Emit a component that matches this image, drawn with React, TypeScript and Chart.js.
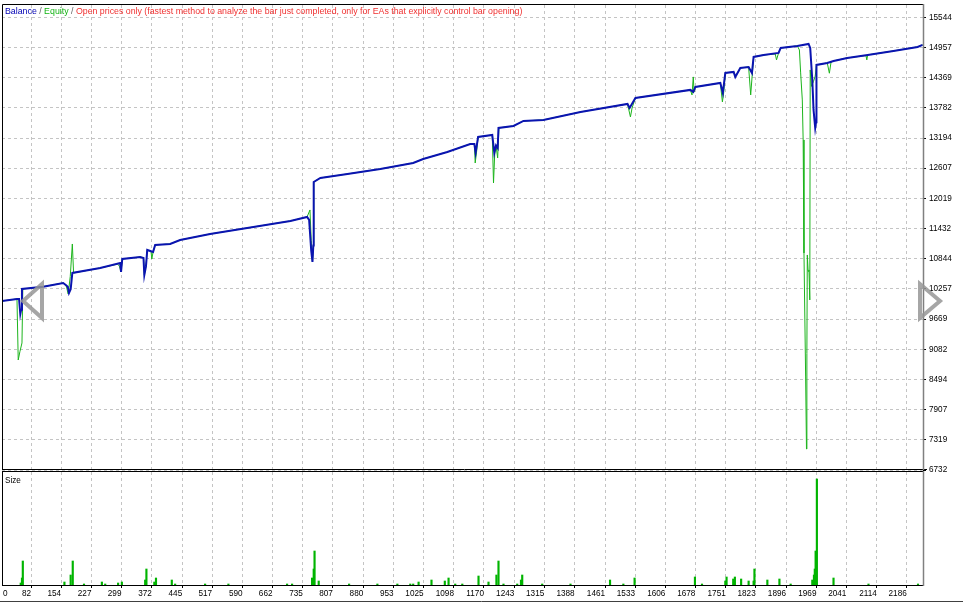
import React, { useEffect, useRef } from "react";
import { Chart, registerables } from "chart.js";

Chart.register(...registerables);

// ---------- text ----------
const titleParts: [string, string][] = [
  ["Balance", "#0000b4"],
  [" / ", "#606060"],
  ["Equity", "#14b414"],
  [" / ", "#606060"],
  ["Open prices only (fastest method to analyze the bar just completed, only for EAs that explicitly control bar opening)", "#f03030"],
];
const sizeTitle = "Size";

// ---------- tick labels ----------
const yTickLabels = ["6732", "7319", "7907", "8494", "9082", "9669", "10257", "10844", "11432", "12019", "12607", "13194", "13782", "14369", "14957", "15544"];
const xTickLabels = ["0", "82", "154", "227", "299", "372", "445", "517", "590", "662", "735", "807", "880", "953", "1025", "1098", "1170", "1243", "1315", "1388", "1461", "1533", "1606", "1678", "1751", "1823", "1896", "1969", "2041", "2114", "2186"];

// ---------- balance ----------
const balanceBars = [12, 48, 53, 56, 58, 60, 111, 159, 166, 170, 173, 177, 181, 248, 296, 298, 301, 344, 352, 354, 358, 361, 375, 380, 416, 440, 512, 616, 705, 745, 750, 755, 758, 760, 761, 777, 842, 921, 1000, 1024, 1082, 1137, 1147, 1150, 1156, 1190, 1195, 1199, 1203, 1205, 1241, 1265, 1313, 1402, 1515, 1520, 1534, 1666, 1673, 1678, 1738, 1744, 1750, 1770, 1774, 1786, 1806, 1814, 1818, 1842, 1878, 1883, 1923, 1950, 1954, 1959, 1962, 1966, 1968, 1969, 1995, 2010, 2043, 2092, 2154, 2212, 2224];
const balanceValues = [10022, 10061, 10061, 9769, 9850, 10256, 10301, 10373, 10330, 10300, 10178, 10250, 10568, 10665, 10762, 10587, 10840, 10879, 10860, 10529, 10700, 11015, 10976, 11113, 11132, 11210, 11327, 11463, 11580, 11658, 11600, 11000, 10782, 11100, 12339, 12417, 12495, 12592, 12709, 12787, 12923, 13079, 13079, 12904, 13216, 13254, 12904, 13050, 13000, 13391, 13430, 13527, 13547, 13702, 13858, 13780, 13975, 14131, 14092, 14189, 14267, 14072, 14462, 14481, 14384, 14559, 14578, 14462, 14773, 14812, 14851, 14948, 14987, 15026, 14948, 14325, 13741, 13391, 13500, 14617, 14656, 14695, 14754, 14812, 14890, 14968, 15007];

// ---------- equity ----------
const equityBars = [12, 48, 51, 55, 60, 62, 111, 159, 166, 171, 176, 181, 184, 248, 290, 294, 298, 301, 344, 352, 354, 358, 361, 370, 372, 375, 380, 416, 440, 512, 616, 705, 745, 752, 755, 758, 760, 761, 777, 842, 921, 1000, 1024, 1082, 1137, 1147, 1149, 1152, 1156, 1190, 1193, 1196, 1199, 1203, 1206, 1241, 1265, 1313, 1402, 1515, 1522, 1526, 1534, 1666, 1670, 1673, 1675, 1678, 1738, 1743, 1746, 1750, 1770, 1774, 1786, 1806, 1811, 1815, 1818, 1842, 1870, 1873, 1878, 1883, 1923, 1928, 1931, 1935, 1937, 1939, 1943, 1945, 1946, 1947, 1949, 1951, 1953, 1954, 1957, 1962, 1966, 1969, 1995, 2000, 2004, 2010, 2043, 2088, 2090, 2092, 2154, 2212, 2224];
const equityValues = [10022, 10061, 8874, 9035, 9205, 10256, 10301, 10373, 10330, 10159, 10500, 11132, 10568, 10665, 10740, 10700, 10587, 10840, 10879, 10860, 10529, 10700, 11015, 10990, 10840, 10976, 11113, 11132, 11210, 11327, 11463, 11580, 11658, 11794, 11200, 10782, 11100, 12339, 12417, 12495, 12592, 12709, 12787, 12923, 13079, 13079, 12709, 12904, 13216, 13254, 12320, 12904, 13050, 12807, 13391, 13430, 13527, 13547, 13702, 13858, 13605, 13780, 13975, 14131, 14033, 14384, 14092, 14189, 14267, 13897, 14072, 14462, 14481, 14384, 14559, 14578, 14033, 14462, 14773, 14812, 14830, 14715, 14851, 14948, 14987, 14909, 14462, 13936, 13157, 10957, 8543, 7141, 9000, 10918, 10600, 10626, 10042, 14520, 14200, 14300, 14400, 14617, 14656, 14456, 14670, 14695, 14754, 14800, 14715, 14812, 14890, 14968, 15007];

// ---------- position size ----------
const sizeBars = [57, 60, 62, 162, 177, 182, 209, 252, 260, 291, 300, 356, 359, 378, 382, 420, 428, 500, 556, 697, 709, 757, 761, 763, 773, 846, 914, 962, 993, 1000, 1013, 1044, 1076, 1085, 1101, 1118, 1157, 1181, 1200, 1205, 1217, 1250, 1259, 1262, 1310, 1378, 1473, 1505, 1532, 1677, 1694, 1750, 1753, 1769, 1773, 1788, 1806, 1818, 1820, 1851, 1880, 1907, 1959, 1963, 1965, 1967, 1970, 2010, 2094, 2213];
const sizeValues = [0.2, 0.7, 2.4, 0.3, 1.0, 2.4, 0.1, 0.3, 0.1, 0.2, 0.3, 0.5, 1.6, 0.3, 0.7, 0.5, 0.1, 0.1, 0.1, 0.1, 0.1, 0.7, 1.6, 3.4, 0.4, 0.1, 0.1, 0.1, 0.1, 0.1, 0.3, 0.5, 0.4, 0.7, 0.1, 0.1, 0.9, 0.3, 1.0, 2.4, 0.1, 0.1, 0.5, 1.0, 0.1, 0.1, 0.5, 0.1, 0.7, 0.8, 0.1, 0.4, 0.8, 0.6, 0.8, 0.6, 0.4, 0.4, 1.6, 0.5, 0.6, 0.1, 0.5, 1.0, 1.6, 3.4, 10.6, 0.7, 0.1, 0.1];

const X_MIN = 12;
const X_MAX = 2225;
const Y_MIN = 6732;
const Y_MAX = 15784;
const SIZE_MAX = 11.3;

const FONT_FAMILY = '"Liberation Sans", Arial, sans-serif';
const FONT_SIZE = 8.2;
const TITLE_SIZE = 8.8;
const GRID_COLOR = "#c4c4c4";

const mainDecor = {
  id: "mainDecor",
  afterDraw(chart: any) {
    const { ctx, chartArea: a } = chart;
    ctx.save();
    // frame
    ctx.strokeStyle = "#000";
    ctx.lineWidth = 1;
    ctx.beginPath();
    ctx.moveTo(a.left + 0.5, a.bottom - 0.5);
    ctx.lineTo(a.left + 0.5, a.top - 0.5);
    ctx.lineTo(a.right + 0.5, a.top - 0.5);
    ctx.stroke();
    ctx.beginPath();
    ctx.moveTo(a.left, a.bottom - 0.5);
    ctx.lineTo(a.right + 4, a.bottom - 0.5);
    ctx.stroke();
    ctx.strokeStyle = "#808080";
    ctx.lineWidth = 1.5;
    ctx.beginPath();
    ctx.moveTo(a.right + 0.5, a.top - 1);
    ctx.lineTo(a.right + 0.5, a.bottom);
    ctx.stroke();
    // scroll arrows
    ctx.strokeStyle = "rgba(150,150,150,0.85)";
    ctx.lineWidth = 4;
    ctx.lineJoin = "miter";
    ctx.beginPath();
    ctx.moveTo(23, 301);
    ctx.lineTo(42, 284);
    ctx.lineTo(42, 318);
    ctx.closePath();
    ctx.stroke();
    ctx.beginPath();
    ctx.moveTo(940, 301);
    ctx.lineTo(920, 284);
    ctx.lineTo(920, 318);
    ctx.closePath();
    ctx.stroke();
    // title
    ctx.font = `${TITLE_SIZE}px ${FONT_FAMILY}`;
    ctx.textBaseline = "alphabetic";
    ctx.textAlign = "left";
    let x = a.left + 3;
    for (const [t, c] of titleParts) {
      ctx.fillStyle = c;
      ctx.fillText(t, x, a.top + 9);
      x += ctx.measureText(t).width;
    }
    ctx.restore();
  },
};

const sizeDecor = {
  id: "sizeDecor",
  afterDraw(chart: any) {
    const { ctx, chartArea: a, width } = chart;
    ctx.save();
    ctx.strokeStyle = "#000";
    ctx.lineWidth = 1;
    ctx.strokeRect(a.left + 0.5, a.top - 0.5, a.right - a.left, a.bottom - a.top + 1);
    ctx.strokeStyle = "#808080";
    ctx.lineWidth = 1.5;
    ctx.beginPath();
    ctx.moveTo(a.right + 0.5, a.top - 1);
    ctx.lineTo(a.right + 0.5, a.bottom + 1);
    ctx.stroke();
    ctx.strokeStyle = "#404040";
    ctx.lineWidth = 1;
    ctx.beginPath();
    ctx.moveTo(0, chart.height - 1.5);
    ctx.lineTo(width, chart.height - 1.5);
    ctx.stroke();
    ctx.font = `${FONT_SIZE}px ${FONT_FAMILY}`;
    ctx.fillStyle = "#000";
    ctx.textAlign = "left";
    ctx.textBaseline = "alphabetic";
    ctx.fillText(sizeTitle, a.left + 3, a.top + 11);
    ctx.textBaseline = "middle";
    ctx.fillText(xTickLabels[0], a.left + 1, a.bottom + 9);
    ctx.restore();
  },
};

export default function App() {
  const mainRef = useRef<HTMLCanvasElement>(null);
  const sizeRef = useRef<HTMLCanvasElement>(null);

  useEffect(() => {
    const font = { family: FONT_FAMILY, size: FONT_SIZE };
    const xTicks = () => xTickLabels.slice(1).map((l) => ({ value: Number(l) }));

    const main = new Chart(mainRef.current!, {
      type: "line",
      data: {
        datasets: [
          {
            label: "Balance",
            data: balanceBars.map((b, i) => ({ x: b, y: balanceValues[i] })),
            borderColor: "#0a14b0",
            borderWidth: 2,
            pointRadius: 0,
            tension: 0,
          },
          {
            label: "Equity",
            data: equityBars.map((b, i) => ({ x: b, y: equityValues[i] })),
            borderColor: "#1cb41c",
            borderWidth: 1,
            pointRadius: 0,
            tension: 0,
          },
        ],
      },
      options: {
        responsive: false,
        animation: false,
        events: [],
        layout: { padding: { left: 2, top: 5, right: 0, bottom: 10 } },
        plugins: { legend: { display: false }, tooltip: { enabled: false } },
        scales: {
          x: {
            type: "linear",
            min: X_MIN,
            max: X_MAX,
            afterBuildTicks: (s: any) => { s.ticks = xTicks(); },
            afterFit: (s: any) => { s.height = 0; s.paddingLeft = 0; s.paddingRight = 0; },
            ticks: { display: false },
            grid: { color: GRID_COLOR, drawTicks: false },
            border: { display: false, dash: [3, 3] },
          },
          y: {
            type: "linear",
            position: "right",
            min: Y_MIN,
            max: Y_MAX,
            afterBuildTicks: (s: any) => { s.ticks = yTickLabels.map((l) => ({ value: Number(l) })); },
            afterFit: (s: any) => { s.width = 40; s.paddingTop = 0; s.paddingBottom = 0; },
            ticks: { font, color: "#000", padding: 3, autoSkip: false, callback: (v: any) => String(v) },
            grid: { color: GRID_COLOR, tickColor: "#000", tickLength: 3, tickBorderDash: [] },
            border: { display: false, dash: [3, 3] },
          },
        },
      } as any,
      plugins: [mainDecor],
    });

    const size = new Chart(sizeRef.current!, {
      type: "bar",
      data: {
        datasets: [
          {
            label: "Size",
            data: sizeBars.map((b, i) => ({ x: b, y: sizeValues[i] })),
            backgroundColor: "#00b400",
            borderWidth: 0,
            barThickness: 1.5,
          },
        ],
      },
      options: {
        responsive: false,
        animation: false,
        events: [],
        layout: { padding: { left: 2, top: 2, right: 0, bottom: 0 } },
        plugins: { legend: { display: false }, tooltip: { enabled: false } },
        scales: {
          x: {
            type: "linear",
            min: X_MIN,
            max: X_MAX,
            offset: false,
            afterBuildTicks: (s: any) => { s.ticks = xTicks(); },
            afterFit: (s: any) => { s.height = 18; s.paddingLeft = 0; s.paddingRight = 0; },
            ticks: { font, color: "#000", align: "end", padding: 1, maxRotation: 0, autoSkip: false, callback: (v: any) => String(v) },
            grid: { color: GRID_COLOR, tickColor: "#000", tickLength: 3, tickBorderDash: [], offset: false },
            border: { display: false, dash: [3, 3] },
          },
          y: {
            type: "linear",
            position: "right",
            min: 0,
            max: SIZE_MAX,
            afterFit: (s: any) => { s.width = 40; s.paddingTop = 0; s.paddingBottom = 0; },
            ticks: { display: false },
            grid: { display: false },
            border: { display: false },
          },
        },
      } as any,
      plugins: [sizeDecor],
    });

    return () => {
      main.destroy();
      size.destroy();
    };
  }, []);

  return (
    <div style={{ position: "absolute", left: 0, top: 0, width: 963, height: 603, background: "#fff", overflow: "hidden" }}>
      <canvas ref={mainRef} width={963} height={480} style={{ position: "absolute", left: 0, top: 0, width: 963, height: 480, display: "block" }} />
      <canvas ref={sizeRef} width={963} height={133} style={{ position: "absolute", left: 0, top: 470, width: 963, height: 133, display: "block" }} />
    </div>
  );
}
